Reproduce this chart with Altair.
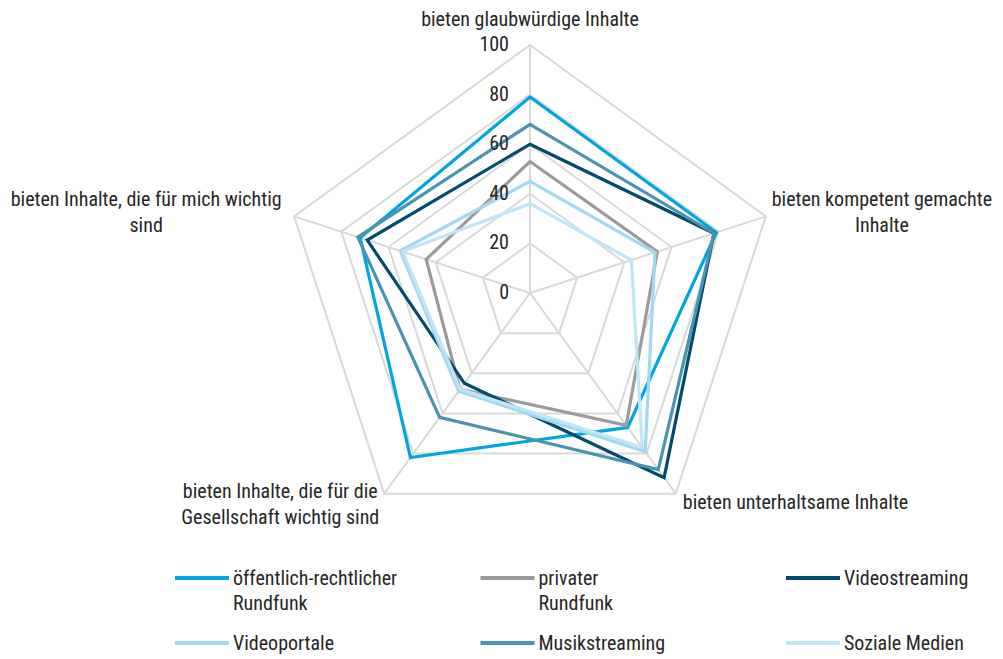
import altair as alt
import pandas as pd

FONT = "Liberation Sans Narrow, Roboto Condensed, Arial Narrow, Roboto, sans-serif"
TEXT_COLOR = "#262626"
GRID_COLOR = "#D9D9D9"
FS = 20

# ---------------- data ----------------
categories = [
    "bieten glaubwürdige Inhalte",
    "bieten kompetent gemachte Inhalte",
    "bieten unterhaltsame Inhalte",
    "bieten Inhalte, die für die Gesellschaft wichtig sind",
    "bieten Inhalte, die für mich wichtig sind",
]
category_lines = [
    "bieten glaubwürdige Inhalte",
    "bieten kompetent gemachte\nInhalte",
    "bieten unterhaltsame Inhalte",
    "bieten Inhalte, die für die\nGesellschaft wichtig sind",
    "bieten Inhalte, die für mich wichtig\nsind",
]
series = [
    "öffentlich-rechtlicher Rundfunk",
    "privater Rundfunk",
    "Videostreaming",
    "Videoportale",
    "Musikstreaming",
    "Soziale Medien",
]
legend_lines = [
    "öffentlich-rechtlicher\nRundfunk",
    "privater\nRundfunk",
    "Videostreaming",
    "Videoportale",
    "Musikstreaming",
    "Soziale Medien",
]
oeffentlich = [79, 79, 67, 82, 72]
privat = [53, 54, 66, 48, 44]
videostreaming = [60, 78, 92, 45, 69]
videoportale = [45, 53, 79, 49, 55]
musikstreaming = [68, 78, 88, 62, 73]
soziale = [36, 43, 77, 48, 54]
series_values = [oeffentlich, privat, videostreaming, videoportale, musikstreaming, soziale]
colors = ["#00A6E2", "#9B9B9B", "#004B6E", "#9FD9F3", "#4A93B1", "#C0E5F7"]
ticks = [0, 20, 40, 60, 80, 100]

# ---------------- styles (layout only) ----------------
label_style = [
    dict(align="center", dx=0, dy=-25),
    dict(align="center", dx=116, dy=-16),
    dict(align="left", dx=7, dy=9),
    dict(align="center", dx=-104, dy=-2),
    dict(align="center", dx=-148, dy=-16),
]

N = len(categories)
ANG = f"PI/2 - datum.idx*2*PI/{N}"

xs = alt.Scale(domain=[-100, 100])
ys = alt.Scale(domain=[-100, 100])


def polar(ch):
    return ch.transform_calculate(
        ang=ANG,
    ).transform_calculate(
        px="datum.value*cos(datum.ang)",
        py="datum.value*sin(datum.ang)",
    )


def pos():
    return dict(
        x=alt.X("px:Q", scale=xs, axis=None),
        y=alt.Y("py:Q", scale=ys, axis=None),
    )


# grid rings
ring_df = pd.DataFrame(
    [{"level": t, "idx": i, "value": t} for t in ticks[1:] for i in range(N)]
)
rings = polar(alt.Chart(ring_df)).mark_line(
    interpolate="linear-closed", color=GRID_COLOR, strokeWidth=2
).encode(**pos(), detail="level:N", order="idx:Q")

# spokes
spoke_df = pd.DataFrame(
    [{"idx": i, "value": r} for i in range(N) for r in (ticks[0], ticks[-1])]
)
spokes = polar(alt.Chart(spoke_df)).mark_line(
    color=GRID_COLOR, strokeWidth=2
).encode(**pos(), detail="idx:N", order="value:Q")

# tick labels
tick_df = pd.DataFrame({"idx": [0] * len(ticks), "value": ticks, "label": [str(t) for t in ticks]})
tick_text = polar(alt.Chart(tick_df)).mark_text(
    align="right", baseline="middle", dx=-21, font=FONT, fontSize=FS, color=TEXT_COLOR
).encode(**pos(), text="label:N")

# series lines (one layer per series so draw order follows the series order)
line_layers = []
for s, vals, c in zip(series, series_values, colors):
    d = pd.DataFrame({"series": s, "idx": list(range(N)), "value": vals})
    line_layers.append(
        polar(alt.Chart(d)).mark_line(
            interpolate="linear-closed", color=c, strokeWidth=3.2
        ).encode(**pos(), order="idx:Q")
    )

# category labels
cat_layers = []
for i, (cat, txt, st) in enumerate(zip(categories, category_lines, label_style)):
    d = pd.DataFrame({"category": [cat], "label": [txt], "idx": [i], "value": [ticks[-1]]})
    cat_layers.append(
        polar(alt.Chart(d)).mark_text(
            baseline="middle", lineBreak="\n", lineHeight=26, font=FONT,
            fontSize=FS, color=TEXT_COLOR, **st
        ).encode(**pos(), text="label:N")
    )

# legend (3 columns x 2 rows)
leg_df = pd.DataFrame({
    "series": series,
    "label": legend_lines,
    "col": [i % 3 for i in range(len(series))],
    "row": [i // 3 for i in range(len(series))],
})
lx = alt.X("col:Q", scale=alt.Scale(domain=[0, 2], range=[-107, 504]), axis=None)
ly = alt.Y("row:Q", scale=alt.Scale(domain=[0, 1], range=[533, 598]), axis=None)
ccol = alt.Color("series:N", scale=alt.Scale(domain=series, range=colors), legend=None)
leg_sym = alt.Chart(leg_df).mark_rule(strokeWidth=4, x2Offset=54).encode(
    x=lx, x2="col:Q", y=ly, color=ccol
)
leg_txt = alt.Chart(leg_df).mark_text(
    align="left", baseline="alphabetic", dx=58, dy=7, lineBreak="\n", lineHeight=25,
    font=FONT, fontSize=FS, color=TEXT_COLOR
).encode(x=lx, y=ly, text="label:N")

chart = alt.layer(
    rings, spokes, *line_layers, tick_text, *cat_layers, leg_sym, leg_txt
).resolve_scale(
    x="independent", y="independent", color="independent"
).properties(
    width=496, height=496,
    autosize="none",
    padding={"left": 274, "top": 37, "right": 217, "bottom": 115},
    background="white",
).configure_view(stroke=None)

chart.save("out.html", embed_options={"renderer": "svg", "actions": False})
